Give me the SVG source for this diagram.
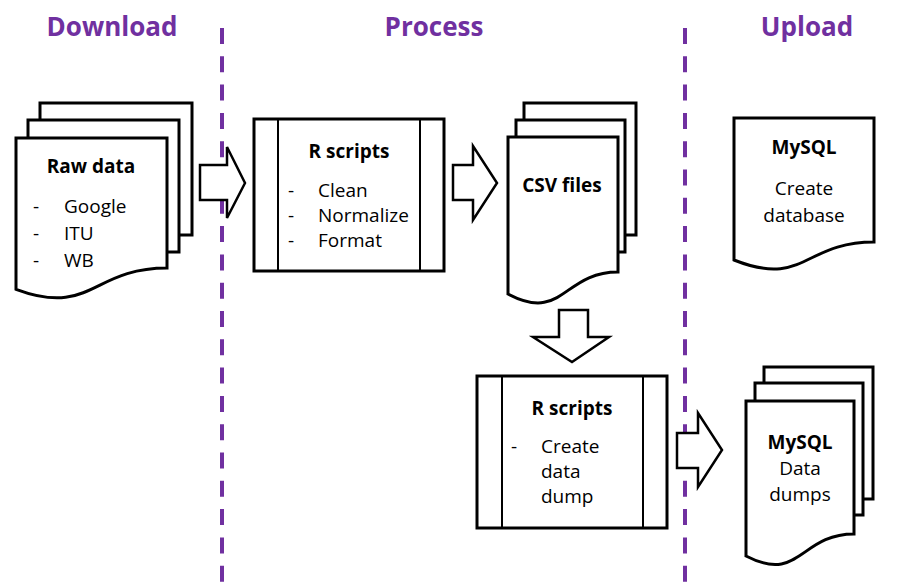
<svg xmlns="http://www.w3.org/2000/svg" width="905" height="586" viewBox="0 0 905 586">
<style>
  .hdr { font-family: "Open Sans", "Liberation Sans", sans-serif; font-weight: 700; font-size: 26px; fill: #7030A0; text-anchor: middle; }
  .sep { stroke: #7030A0; stroke-width: 4; stroke-dasharray: 16 12.3; fill: none; }
  .shape { fill: #fff; stroke: #000; stroke-width: 3; stroke-linejoin: miter; }
  .thin { stroke: #000; stroke-width: 2; fill: none; }
  .arrow { fill: #fff; stroke: #000; stroke-width: 2.5; stroke-linejoin: miter; }
  .t { font-family: "Open Sans", "Liberation Sans", sans-serif; font-size: 19px; fill: #000; }
  .b { font-weight: 700; }
  .c { text-anchor: middle; }
</style>
<rect width="905" height="586" fill="#fff"/>

<g id="headers">
  <text class="hdr" x="112" y="36">Download</text>
  <text class="hdr" x="434" y="36">Process</text>
  <text class="hdr" x="807" y="36">Upload</text>
</g>
<g id="separators">
  <line class="sep" x1="222" y1="28" x2="222" y2="586"/>
  <line class="sep" x1="685" y1="28" x2="685" y2="586"/>
</g>

<g id="raw-data">
  <rect class="shape" x="40" y="103" width="152" height="132"/>
  <rect class="shape" x="28" y="120" width="151" height="132"/>
  <path class="shape" d="M16,138 H167 V268 C91.5,268 91.5,317.3 16,289.3 Z"/>
  <text class="t b c" x="91" y="173">Raw data</text>
  <text class="t" x="33" y="213">-</text><text class="t" x="64" y="213">Google</text>
  <text class="t" x="33" y="240">-</text><text class="t" x="64" y="240">ITU</text>
  <text class="t" x="33" y="267">-</text><text class="t" x="64" y="267">WB</text>
</g>

<g id="r-scripts-1">
  <rect class="shape" x="254" y="119" width="190" height="152"/>
  <line class="thin" x1="278" y1="119" x2="278" y2="271"/>
  <line class="thin" x1="420" y1="119" x2="420" y2="271"/>
  <text class="t b c" x="349" y="158">R scripts</text>
  <text class="t" x="288" y="197">-</text><text class="t" x="318" y="197">Clean</text>
  <text class="t" x="288" y="222">-</text><text class="t" x="318" y="222">Normalize</text>
  <text class="t" x="288" y="247">-</text><text class="t" x="318" y="247">Format</text>
</g>

<g id="csv-files">
  <rect class="shape" x="524" y="103" width="112" height="132"/>
  <rect class="shape" x="516" y="120" width="109" height="132"/>
  <path class="shape" d="M508,137 H618 V272 C563,272 563,323 508,294 Z"/>
  <text class="t b c" x="562" y="192">CSV files</text>
</g>

<g id="mysql-create">
  <path class="shape" d="M734,118 H874 V242 C804,242 804,288 734,260 Z"/>
  <text class="t b c" x="804" y="154">MySQL</text>
  <text class="t c" x="804" y="195">Create</text>
  <text class="t c" x="804" y="222">database</text>
</g>

<g id="r-scripts-2">
  <rect class="shape" x="477" y="376" width="190" height="152"/>
  <line class="thin" x1="502" y1="376" x2="502" y2="528"/>
  <line class="thin" x1="643" y1="376" x2="643" y2="528"/>
  <text class="t b c" x="572" y="415">R scripts</text>
  <text class="t" x="511" y="453">-</text><text class="t" x="541" y="453">Create</text>
  <text class="t" x="541" y="478">data</text>
  <text class="t" x="541" y="503">dump</text>
</g>

<g id="mysql-dumps">
  <rect class="shape" x="764" y="367" width="109" height="132"/>
  <rect class="shape" x="755" y="383" width="108" height="132"/>
  <path class="shape" d="M746,401 H854 V534 C800,534 800,584 746,556 Z"/>
  <text class="t b c" x="800" y="449">MySQL</text>
  <text class="t c" x="800" y="475">Data</text>
  <text class="t c" x="800" y="501">dumps</text>
</g>

<g id="connectors">
  <polygon class="arrow" points="200,165 227,165 227,147 245,183 227,218 227,200 200,200"/>
  <polygon class="arrow" points="453,165 473,165 473,146 497,183 473,220 473,200 453,200"/>
  <polygon class="arrow" points="559,310 588,310 588,337 609,337 572,362 533,337 559,337"/>
  <polygon class="arrow" points="677,433 698,433 698,413 722,450 698,487 698,468 677,468"/>
</g>
</svg>
